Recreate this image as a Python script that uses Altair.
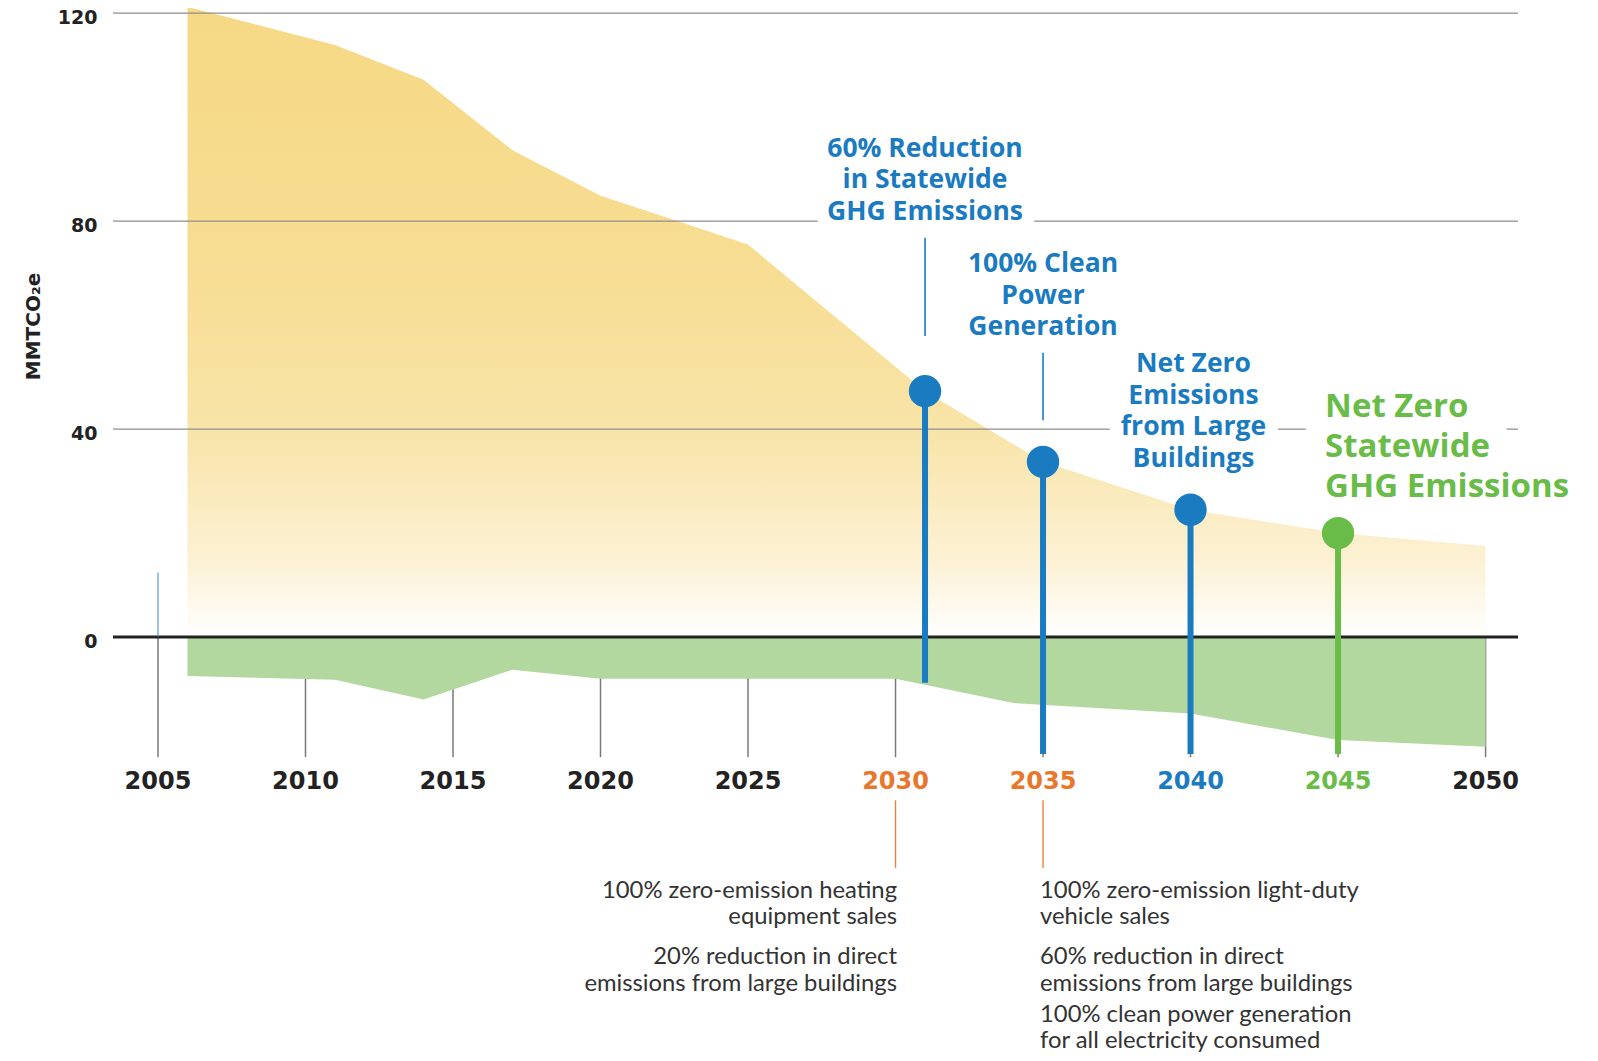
import altair as alt
import pandas as pd

# ---------------- data ----------------
# Gross emissions pathway (MMTCO2e)
pos_years = [2006, 2011, 2014, 2017, 2020, 2022.5, 2025, 2031, 2035, 2040, 2045, 2050]
pos_vals = [121.2, 113.9, 107.2, 93.7, 84.9, 80.2, 75.5, 47.3, 33.7, 24.5, 20.0, 17.5]
# Sequestration (negative emissions)
neg_years = [2006, 2011, 2014, 2017, 2020, 2025, 2030, 2034, 2040, 2045, 2050]
neg_vals = [-7.5, -8.2, -12.0, -6.3, -8.0, -8.0, -8.0, -12.7, -14.7, -19.8, -21.1]

tick_years = [2005, 2010, 2015, 2020, 2025, 2030, 2035, 2040, 2045, 2050]
tick_labels = [str(y) for y in tick_years]
tick_colors = ["#222222"] * 5 + ["#e8772e", "#e8772e", "#1b7bc1", "#6abc48", "#222222"]
y_ticks = [0, 40, 80, 120]
grid_vals = [40, 80, 120]

BLUE = "#1b7bc1"
GREEN = "#6abc48"
ORANGE = "#e8833a"

milestone_years = [2031, 2035, 2040, 2045]
milestone_vals = [47.3, 33.7, 24.5, 20.0]
milestone_ends = [-8.8, -22.5, -22.5, -22.5]
milestone_colors = [BLUE, BLUE, BLUE, GREEN]

blue_labels = ["60% Reduction\nin Statewide\nGHG Emissions",
               "100% Clean\nPower\nGeneration",
               "Net Zero\nEmissions\nfrom Large\nBuildings"]
blue_label_x = [2031, 2035, 2040.1]
blue_label_y = [93.9, 71.7, 52.5]      # first line of each label

green_label = ["Net Zero\nStatewide\nGHG Emissions"]
green_label_x = [2044.56]
green_label_y = [44.3]

conn_x = [2031, 2035]
conn_top = [76.8, 54.7]
conn_bot = [57.9, 41.7]

orange_x = [2030, 2035]
orange_top = [-31.4, -31.4]
orange_bot = [-44.4, -44.4]

notes_left = ["100% zero-emission heating\nequipment sales",
              "20% reduction in direct\nemissions from large buildings"]
notes_left_x = [2030, 2030]
notes_left_y = [-48.8, -61.6]
notes_right = ["100% zero-emission light-duty\nvehicle sales",
               "60% reduction in direct\nemissions from large buildings",
               "100% clean power generation\nfor all electricity consumed"]
notes_right_x = [2035, 2035, 2035]
notes_right_y = [-48.8, -61.6, -72.6]

# ---------------- scales ----------------
xs = alt.Scale(domain=[2003.475, 2051.1], nice=False, zero=False)
ys = alt.Scale(domain=[-80, 121], nice=False, zero=False)

yaxis = alt.Axis(values=y_ticks, grid=False, domain=False, ticks=False,
                 labelFont="DejaVu Sans", labelFontWeight="bold", labelFontSize=19,
                 labelColor="#222222", labelPadding=16, labelOffset=4,
                 title="MMTCO₂e", titleFont="DejaVu Sans", titleFontWeight="bold",
                 titleFontSize=20, titleColor="#222222", titleAngle=270,
                 titleX=-80, titleY=318, titleAlign="center", titleBaseline="middle")


def X(f="x"):
    return alt.X(f"{f}:Q", scale=xs, axis=None)


def Y(f="y"):
    return alt.Y(f"{f}:Q", scale=ys, axis=yaxis)


pos_df = pd.DataFrame({"x": pos_years, "y": pos_vals})
neg_df = pd.DataFrame({"x": neg_years, "y": neg_vals})
tick_df = pd.DataFrame({"x": tick_years, "y": [0] * len(tick_years), "y2": [-23.1] * len(tick_years),
                        "label": tick_labels, "c": tick_colors, "ly": [-27.8] * len(tick_years)})

gradient = alt.Gradient(
    gradient="linear",
    stops=[alt.GradientStop(color="#ffffff", offset=0),
           alt.GradientStop(color="#fcf1d4", offset=0.12),
           alt.GradientStop(color="#f8e4a8", offset=0.33),
           alt.GradientStop(color="#f7dd92", offset=0.6),
           alt.GradientStop(color="#f6d985", offset=1)],
    x1=0, x2=0, y1=1, y2=0)

ticks = alt.Chart(tick_df).mark_rule(color="#7a7a7a", strokeWidth=1.5).encode(
    x=X(), y=Y(), y2="y2:Q")

area_pos = alt.Chart(pos_df).mark_area(color=gradient, interpolate="linear").encode(
    x=X(), y=Y(), y2=alt.datum(0))
area_neg = alt.Chart(neg_df).mark_area(color="#b2d8a0", interpolate="linear").encode(
    x=X(), y=Y(), y2=alt.datum(0))

grid = alt.Chart(pd.DataFrame({"y": grid_vals})).mark_rule(color="#8e8e8e", strokeWidth=1.3).encode(y=Y())
zero = alt.Chart(pd.DataFrame({"y": [0]})).mark_rule(color="#222222", strokeWidth=3).encode(y=Y())

artifact = alt.Chart(pd.DataFrame({"x": [2005], "y": [12.4], "y2": [0]})).mark_rule(
    color="#3b82d6", strokeWidth=1).encode(x=X(), y=Y(), y2="y2:Q")

blue_df = pd.DataFrame({"x": blue_label_x, "y": blue_label_y, "t": blue_labels})
green_df = pd.DataFrame({"x": green_label_x, "y": green_label_y, "t": green_label})

blue_font = dict(font="Open Sans", fontWeight="bold", fontSize=26.5, lineHeight=31.6,
                 lineBreak="\n", align="center", baseline="middle")
green_font = dict(font="Open Sans", fontWeight="bold", fontSize=33, lineHeight=40.3,
                  lineBreak="\n", align="left", baseline="middle")

halo_blue = alt.Chart(blue_df).mark_text(color="white", stroke="white", strokeWidth=26,
                                         strokeJoin="round", **blue_font).encode(x=X(), y=Y(), text="t:N")
halo_green = alt.Chart(green_df).mark_text(color="white", stroke="white", strokeWidth=46,
                                           strokeJoin="round", **green_font).encode(x=X(), y=Y(), text="t:N")
text_blue = alt.Chart(blue_df).mark_text(color=BLUE, **blue_font).encode(x=X(), y=Y(), text="t:N")
text_green = alt.Chart(green_df).mark_text(color=GREEN, **green_font).encode(x=X(), y=Y(), text="t:N")

conn = alt.Chart(pd.DataFrame({"x": conn_x, "y": conn_top, "y2": conn_bot})).mark_rule(
    color=BLUE, strokeWidth=1.6).encode(x=X(), y=Y(), y2="y2:Q")

ms_df = pd.DataFrame({"x": milestone_years, "y": milestone_vals, "y2": milestone_ends, "c": milestone_colors})
stems = alt.Chart(ms_df).mark_rule(strokeWidth=6).encode(
    x=X(), y=Y(), y2="y2:Q", color=alt.Color("c:N", scale=None))
dots = alt.Chart(ms_df).mark_circle(size=1050, opacity=1).encode(
    x=X(), y=Y(), color=alt.Color("c:N", scale=None))

year_labels = alt.Chart(tick_df).mark_text(font="DejaVu Sans", fontWeight="bold", fontSize=24,
                                           baseline="middle", align="center").encode(
    x=X(), y=Y("ly"), text="label:N", color=alt.Color("c:N", scale=None))

orange = alt.Chart(pd.DataFrame({"x": orange_x, "y": orange_top, "y2": orange_bot})).mark_rule(
    color=ORANGE, strokeWidth=1.4).encode(x=X(), y=Y(), y2="y2:Q")

note_font = dict(font="Lato", fontSize=23.8, lineHeight=26.5, lineBreak="\n",
                 baseline="middle", color="#333333")
nl = alt.Chart(pd.DataFrame({"x": notes_left_x, "y": notes_left_y, "t": notes_left})).mark_text(
    align="right", dx=1.5, **note_font).encode(x=X(), y=Y(), text="t:N")
nr = alt.Chart(pd.DataFrame({"x": notes_right_x, "y": notes_right_y, "t": notes_right})).mark_text(
    align="left", dx=-3, **note_font).encode(x=X(), y=Y(), text="t:N")

chart = alt.layer(
    ticks, area_pos, area_neg, grid, zero, artifact,
    halo_blue, halo_green, text_blue, text_green, conn,
    stems, dots, year_labels, orange, nl, nr
).properties(
    width=1405, height=1045,
    autosize=alt.AutoSizeParams(type="none"),
    padding={"left": 105, "top": 0, "right": 60, "bottom": 0},
    background="white",
).configure_view(strokeWidth=0)

chart.save("out.html", embed_options={"renderer": "svg", "actions": False})
